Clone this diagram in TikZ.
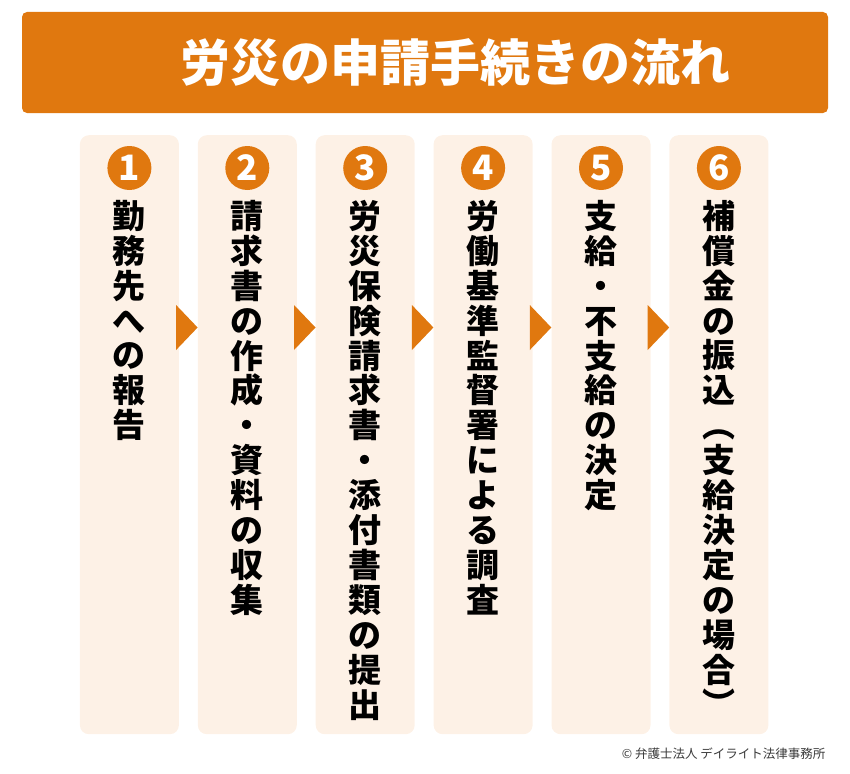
\documentclass[tikz,border=0pt]{standalone}
\usepackage{fontspec}
\usepackage{tikz}
\usetikzlibrary{calc}
\newfontfamily\jp{Noto Sans CJK JP}
\definecolor{flow}{HTML}{E0780F}
\definecolor{paper}{HTML}{FDF1E6}
\definecolor{note}{HTML}{3A3A3A}

\begin{document}
\begin{tikzpicture}[x=1pt,y=-1pt,
    column/.style={fill=paper,rounded corners=9pt,minimum width=99pt,minimum height=599pt,anchor=north,inner sep=0pt},
    numcircle/.style={circle,fill=flow,minimum size=44pt,inner sep=0pt,text=white,font=\jp\bfseries\fontsize{35}{35}\selectfont},
    tate/.style={anchor=north,inner sep=0pt,align=center,font=\jp\bfseries\fontsize{33}{34.9}\selectfont}]
            \useasboundingbox (0,0) rectangle (850,773);
            % title
            \node[fill=flow,rounded corners=5pt,minimum width=806pt,minimum height=101pt,inner sep=0pt] (bar) at (425,62.5) {};
            \node[text=white,font=\jp\bfseries\fontsize{50}{50}\selectfont] (title) at (455,63) {労災の申請手続きの流れ};
            % steps
            \foreach \i/\txt in {1/{勤\\務\\先\\へ\\の\\報\\告},
                2/{請\\求\\書\\の\\作\\成\\・\\資\\料\\の\\収\\集},
                3/{労\\災\\保\\険\\請\\求\\書\\・\\添\\付\\書\\類\\の\\提\\出},
                4/{労\\働\\基\\準\\監\\督\\署\\に\\よ\\る\\調\\査},
                5/{支\\給\\・\\不\\支\\給\\の\\決\\定},
                6/{補\\償\\金\\の\\振\\込\\︵\\支\\給\\決\\定\\の\\場\\合\\︶}} {
                \node[column] (col\i) at (11.5+117.9*\i,135) {};
                \node[numcircle] (num\i) at (11.5+117.9*\i,168) {\i};
                \node[tate] (txt\i) at (11.5+117.9*\i,200) {\txt};
            }
            % arrows
            \foreach \i [count=\j from 2] in {1,...,5}
                \fill[flow] ($(col\i.north east)+(-3,170)$) -- ($(col\i.north east)+(-3,215)$) -- ($(col\j.north west)+(0,192.5)$) -- cycle;
            \node[anchor=east,text=note,font=\jp\fontsize{12.5}{12.5}\selectfont] (copy) at (829,754) {© 弁護士法人 デイライト法律事務所};
        \end{tikzpicture}
\end{document}
